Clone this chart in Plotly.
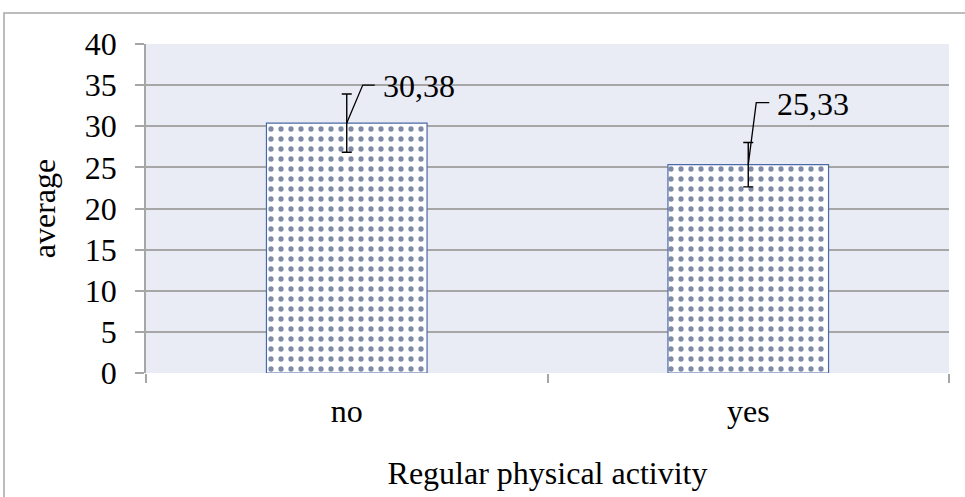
import plotly.graph_objects as go

# Chart data
categories = ["no", "yes"]
averages = [30.38, 25.33]
errors = [3.55, 2.7]
value_labels = ["30,38", "25,33"]
y_ticks = [0, 5, 10, 15, 20, 25, 30, 35, 40]

# Leader-line / label offsets in pixels (dx, dy up) for each bar
leader_bend = [(16, 38), (8, 62)]
leader_end = [28, 21]
label_shift = [(36, 37), (29, 61)]

FONT = "Liberation Serif"
FS = 32
GRID = "#A6A6A6"
W, H = 965, 497
ML, MR, MT, MB = 146, 16, 44, 124
PW, PH = W - ML - MR, H - MT - MB

xpos = list(range(len(categories)))

fig = go.Figure()
fig.add_trace(go.Bar(
    x=xpos,
    y=averages,
    width=0.4,
    marker=dict(
        color="white",
        line=dict(color="#4A69A8", width=1.2),
        pattern=dict(shape=".", fgcolor="#00164F", bgcolor="white",
                     size=10, solidity=0.22, fillmode="overlay"),
    ),
    error_y=dict(type="data", array=errors, visible=True,
                 color="black", thickness=1.4, width=5),
    hoverinfo="skip",
))

shapes = []
annotations = []
for i, (xv, yv) in enumerate(zip(xpos, averages)):
    bx, by = leader_bend[i]
    ex = leader_end[i]
    shapes.append(dict(
        type="path", xref="x", yref="y",
        xsizemode="pixel", ysizemode="pixel",
        xanchor=xv, yanchor=yv,
        path=f"M0,0 L{bx},{by} L{ex},{by}",
        line=dict(color="black", width=1.3),
    ))
    sx, sy = label_shift[i]
    annotations.append(dict(
        x=xv, y=yv, xref="x", yref="y",
        text=value_labels[i], showarrow=False,
        xanchor="left", yanchor="middle",
        xshift=sx - 2, yshift=sy,
        font=dict(family=FONT, size=FS, color="black"),
    ))

# Outer chart border
shapes.append(dict(
    type="rect", xref="paper", yref="paper",
    x0=(4 - ML) / PW, x1=(W + 20 - ML) / PW,
    y0=-(MB + 20) / PH, y1=1 + (MT - 13) / PH,
    line=dict(color="#A6A6A6", width=1.5), fillcolor="rgba(0,0,0,0)",
    layer="below",
))

fig.update_layout(
    width=W, height=H,
    margin=dict(l=ML, r=MR, t=MT, b=MB),
    paper_bgcolor="white",
    plot_bgcolor="#E9EBF5",
    showlegend=False,
    font=dict(family=FONT, size=FS, color="black"),
    shapes=shapes,
    annotations=annotations,
    bargap=0.6,
)

fig.update_xaxes(
    range=[-0.5, 1.5],
    tickvals=xpos, ticktext=categories,
    ticks="", showgrid=False, zeroline=False,
    showline=False,
    ticklabelstandoff=16,
    minor=dict(tickvals=[-0.5, 0.5, 1.5], ticks="outside", ticklen=9,
               tickcolor=GRID, tickwidth=1.5, showgrid=False),
    title=dict(text="Regular physical activity", standoff=33,
               font=dict(family=FONT, size=FS)),
    tickfont=dict(family=FONT, size=FS),
)
fig.update_yaxes(
    range=[0, 40],
    tickvals=y_ticks,
    ticks="outside", ticklen=9, tickcolor=GRID, tickwidth=1.5,
    showgrid=True, gridcolor=GRID, gridwidth=1.6,
    showline=True, linecolor=GRID, linewidth=1.6,
    zeroline=False,
    ticklabelstandoff=12,
    title=dict(text="average", standoff=20, font=dict(family=FONT, size=FS)),
    tickfont=dict(family=FONT, size=FS),
)

fig.write_html("out.html")
